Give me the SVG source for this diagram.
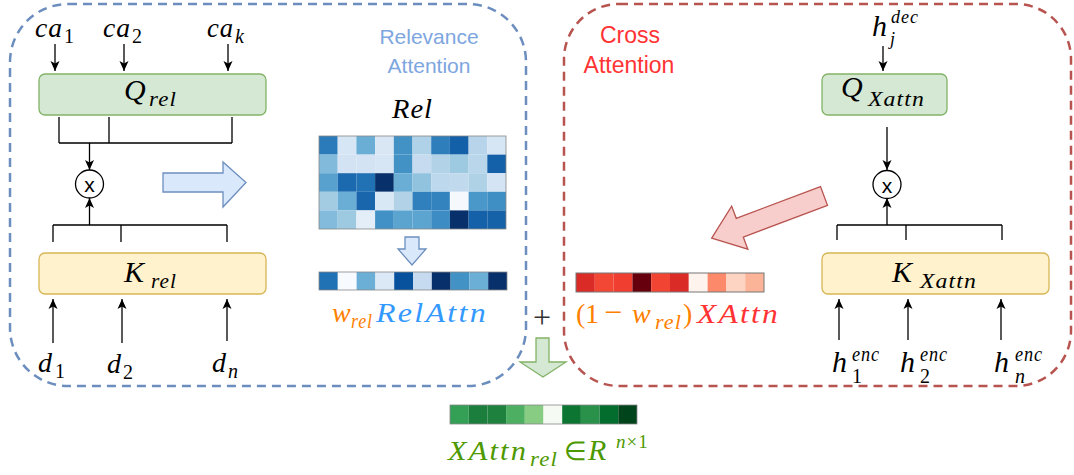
<svg xmlns="http://www.w3.org/2000/svg" width="1074" height="475" viewBox="0 0 1074 475">
<defs>
<marker id="ah" markerUnits="userSpaceOnUse" markerWidth="10" markerHeight="10" refX="10" refY="5" orient="auto" viewBox="0 0 10 10">
<path d="M0,0.5 L10,5 L0,9.5 L2.5,5 Z" fill="#000"/>
</marker>
<style>
.m{font-family:"Liberation Serif","Times New Roman",serif;font-style:italic;letter-spacing:1px}
.w{letter-spacing:2px}
.u{font-family:"Liberation Serif","Times New Roman",serif;font-style:normal}
.s{font-family:"Liberation Sans",Arial,sans-serif}
.ln{stroke:#000;stroke-width:1.3;fill:none}
.ar{stroke:#000;stroke-width:1.3;fill:none;marker-end:url(#ah)}
.q{fill:#d5e8d4;stroke:#82b366;stroke-width:1.3}
.k{fill:#fff2cc;stroke:#d6b656;stroke-width:1.3}
.bar{fill:none;stroke:#888;stroke-width:0.8}
</style>
</defs>
<rect width="1074" height="475" fill="#fff"/>

<g id="relevance-frame">
<rect x="10" y="4" width="516" height="382" rx="58" ry="58" fill="none" stroke="#6c8ebf" stroke-width="2.5" stroke-dasharray="9 6"/>
<text class="s" x="429" y="44" font-size="21" fill="#7ea6e0" text-anchor="middle">Relevance</text>
<text class="s" x="429" y="73" font-size="21" fill="#7ea6e0" text-anchor="middle">Attention</text>
</g>

<g id="cross-frame">
<rect x="564" y="4" width="507" height="382" rx="55" ry="55" fill="none" stroke="#b85450" stroke-width="2.5" stroke-dasharray="9 6"/>
<text class="s" x="630" y="43" font-size="23" fill="#ff3333" text-anchor="middle">Cross</text>
<text class="s" x="629" y="73" font-size="23" fill="#ff3333" text-anchor="middle">Attention</text>
</g>

<g id="connectors">
<line class="ar" x1="55" y1="44" x2="55" y2="71"/>
<line class="ar" x1="124" y1="44" x2="124" y2="71"/>
<line class="ar" x1="228" y1="44" x2="228" y2="71"/>
<path class="ln" d="M59,117 V143 M109,117 V143 M232,117 V143 M59,143 H232"/>
<line class="ar" x1="89.5" y1="143" x2="89.5" y2="170"/>
<line class="ar" x1="89.5" y1="225" x2="89.5" y2="198"/>
<path class="ln" d="M53,225 H227 M53,225 V242 M121,225 V242 M227,225 V242"/>
<line class="ar" x1="53" y1="343" x2="53" y2="299"/>
<line class="ar" x1="122" y1="343" x2="122" y2="299"/>
<line class="ar" x1="227" y1="341" x2="227" y2="299"/>

<line class="ar" x1="883" y1="46" x2="883" y2="71"/>
<line class="ar" x1="887" y1="127" x2="887" y2="170"/>
<line class="ar" x1="887" y1="225" x2="887" y2="198"/>
<path class="ln" d="M837,225 H1002 M837,225 V240 M906,225 V240 M1002,225 V240"/>
<line class="ar" x1="839" y1="340" x2="839" y2="299"/>
<line class="ar" x1="908" y1="340" x2="908" y2="299"/>
<line class="ar" x1="1001" y1="340" x2="1001" y2="299"/>

<polygon points="163,173 223,173 223,162 246,182.5 223,207 223,192 163,192" fill="#dae8fc" stroke="#6c8ebf" stroke-width="1.3"/>
<polygon points="405,237 419,237 419,249 426,249 412,265 398,249 405,249" fill="#dae8fc" stroke="#6c8ebf" stroke-width="1.3"/>
<polygon transform="translate(824,196) rotate(159.4)" points="0,-10 90,-10 90,-23 120,0 90,23 90,10 0,10" fill="#f8cecc" stroke="#b85450" stroke-width="1.3"/>
<polygon points="536,338 549,338 549,362 566,362 543,377 520,362 536,362" fill="#d5e8d4" stroke="#82b366" stroke-width="1.3"/>
</g>

<g id="ca-inputs">
<text class="m" x="35" y="37" font-size="28" textLength="28" lengthAdjust="spacingAndGlyphs">ca</text>
<text class="u" x="64" y="43" font-size="20">1</text>
<text class="m" x="103" y="37" font-size="28" textLength="28" lengthAdjust="spacingAndGlyphs">ca</text>
<text class="u" x="132" y="43" font-size="20">2</text>
<text class="m" x="207" y="37" font-size="28" textLength="27" lengthAdjust="spacingAndGlyphs">ca</text>
<text class="m" x="235" y="43" font-size="20">k</text>
</g>

<g id="q-rel">
<rect class="q" x="39" y="74" width="227" height="41" rx="6"/>
<text class="m" x="124" y="100" font-size="30">Q</text>
<text class="m" x="149" y="106" font-size="20" textLength="28" lengthAdjust="spacingAndGlyphs">rel</text>
</g>

<g id="mult-rel">
<circle cx="89.5" cy="184" r="14" fill="#fff" stroke="#000" stroke-width="1.3"/>
<text class="s" x="89.5" y="192" font-size="21" text-anchor="middle">x</text>
</g>

<g id="k-rel">
<rect class="k" x="39" y="253" width="227" height="41" rx="6"/>
<text class="m" x="124" y="282" font-size="30">K</text>
<text class="m" x="151" y="288" font-size="20" textLength="26" lengthAdjust="spacingAndGlyphs">rel</text>
</g>

<g id="d-inputs">
<text class="m" x="38" y="372" font-size="28">d</text>
<text class="u" x="55" y="378" font-size="20">1</text>
<text class="m" x="107" y="373" font-size="28">d</text>
<text class="u" x="123" y="379" font-size="20">2</text>
<text class="m" x="212" y="372" font-size="28">d</text>
<text class="m" x="228" y="378" font-size="20">n</text>
</g>

<g id="rel-heatmap">
<text class="m" x="392" y="118" font-size="28" textLength="41" lengthAdjust="spacingAndGlyphs">Rel</text>
<g>
<rect x="319" y="136" width="18.7" height="18.6" fill="#2b7bba"/><rect x="337.7" y="136" width="18.7" height="18.6" fill="#d6e6f4"/><rect x="356.4" y="136" width="18.7" height="18.6" fill="#6aaed6"/><rect x="375.1" y="136" width="18.7" height="18.6" fill="#d9e7f5"/><rect x="393.8" y="136" width="18.7" height="18.6" fill="#4292c6"/><rect x="412.5" y="136" width="18.7" height="18.6" fill="#b0d2e8"/><rect x="431.2" y="136" width="18.7" height="18.6" fill="#2f7ebc"/><rect x="449.9" y="136" width="18.7" height="18.6" fill="#1460a8"/><rect x="468.6" y="136" width="18.7" height="18.6" fill="#b7d4ea"/><rect x="487.3" y="136" width="18.7" height="18.6" fill="#d6e6f4"/>
<rect x="319" y="154.6" width="18.7" height="18.6" fill="#82badb"/><rect x="337.7" y="154.6" width="18.7" height="18.6" fill="#d3e3f3"/><rect x="356.4" y="154.6" width="18.7" height="18.6" fill="#d3e3f3"/><rect x="375.1" y="154.6" width="18.7" height="18.6" fill="#d6e6f4"/><rect x="393.8" y="154.6" width="18.7" height="18.6" fill="#4292c6"/><rect x="412.5" y="154.6" width="18.7" height="18.6" fill="#c6dbef"/><rect x="431.2" y="154.6" width="18.7" height="18.6" fill="#b1d2e7"/><rect x="449.9" y="154.6" width="18.7" height="18.6" fill="#9ecae1"/><rect x="468.6" y="154.6" width="18.7" height="18.6" fill="#b9d6ea"/><rect x="487.3" y="154.6" width="18.7" height="18.6" fill="#1561a9"/>
<rect x="319" y="173.2" width="18.7" height="18.6" fill="#58a1cf"/><rect x="337.7" y="173.2" width="18.7" height="18.6" fill="#1b69af"/><rect x="356.4" y="173.2" width="18.7" height="18.6" fill="#2171b5"/><rect x="375.1" y="173.2" width="18.7" height="18.6" fill="#08306b"/><rect x="393.8" y="173.2" width="18.7" height="18.6" fill="#6aaed6"/><rect x="412.5" y="173.2" width="18.7" height="18.6" fill="#91c3de"/><rect x="431.2" y="173.2" width="18.7" height="18.6" fill="#bdd7ec"/><rect x="449.9" y="173.2" width="18.7" height="18.6" fill="#c1d9ed"/><rect x="468.6" y="173.2" width="18.7" height="18.6" fill="#b0d2e7"/><rect x="487.3" y="173.2" width="18.7" height="18.6" fill="#d4e4f4"/>
<rect x="319" y="191.8" width="18.7" height="18.6" fill="#a3cce3"/><rect x="337.7" y="191.8" width="18.7" height="18.6" fill="#6aaed6"/><rect x="356.4" y="191.8" width="18.7" height="18.6" fill="#1966ad"/><rect x="375.1" y="191.8" width="18.7" height="18.6" fill="#d9e8f5"/><rect x="393.8" y="191.8" width="18.7" height="18.6" fill="#b1d2e7"/><rect x="412.5" y="191.8" width="18.7" height="18.6" fill="#3080bd"/><rect x="431.2" y="191.8" width="18.7" height="18.6" fill="#3383be"/><rect x="449.9" y="191.8" width="18.7" height="18.6" fill="#f5f9fe"/><rect x="468.6" y="191.8" width="18.7" height="18.6" fill="#4a98c9"/><rect x="487.3" y="191.8" width="18.7" height="18.6" fill="#3f8fc5"/>
<rect x="319" y="210.4" width="18.7" height="18.6" fill="#82bbdb"/><rect x="337.7" y="210.4" width="18.7" height="18.6" fill="#9dc9e1"/><rect x="356.4" y="210.4" width="18.7" height="18.6" fill="#e3eef9"/><rect x="375.1" y="210.4" width="18.7" height="18.6" fill="#4191c6"/><rect x="393.8" y="210.4" width="18.7" height="18.6" fill="#5ca4d0"/><rect x="412.5" y="210.4" width="18.7" height="18.6" fill="#5da5d1"/><rect x="431.2" y="210.4" width="18.7" height="18.6" fill="#3d8dc4"/><rect x="449.9" y="210.4" width="18.7" height="18.6" fill="#08306b"/><rect x="468.6" y="210.4" width="18.7" height="18.6" fill="#1561a9"/><rect x="487.3" y="210.4" width="18.7" height="18.6" fill="#1562a9"/>
</g>
<rect class="bar" x="319" y="136" width="187" height="93"/>
</g>

<g id="rel-attn-bar">
<rect x="319" y="272" width="18.8" height="18" fill="#2171b5"/><rect x="337.8" y="272" width="18.8" height="18" fill="#f7fbff"/><rect x="356.6" y="272" width="18.8" height="18" fill="#6baed6"/><rect x="375.4" y="272" width="18.8" height="18" fill="#dbe9f6"/><rect x="394.2" y="272" width="18.8" height="18" fill="#08519c"/><rect x="413" y="272" width="18.8" height="18" fill="#c6dbef"/><rect x="431.8" y="272" width="18.8" height="18" fill="#08306b"/><rect x="450.6" y="272" width="18.8" height="18" fill="#4292c6"/><rect x="469.4" y="272" width="18.8" height="18" fill="#6baed6"/><rect x="488.2" y="272" width="18.8" height="18" fill="#08306b"/>
<rect class="bar" x="319" y="272" width="188" height="18"/>
<text class="m" x="332" y="322" font-size="28" fill="#ff8000">w</text>
<text class="m" x="351" y="328" font-size="20" fill="#ff8000" textLength="22" lengthAdjust="spacingAndGlyphs">rel</text>
<text class="m w" x="376" y="322" font-size="28" fill="#3399ff" textLength="112" lengthAdjust="spacingAndGlyphs">RelAttn</text>
</g>

<g id="plus">
<text class="u" x="542" y="328" font-size="32" fill="#333" text-anchor="middle">+</text>
</g>

<g id="xattn-bar">
<rect x="576" y="273" width="18.8" height="19" fill="#da2b26"/><rect x="594.8" y="273" width="18.8" height="19" fill="#f24734"/><rect x="613.6" y="273" width="18.8" height="19" fill="#f03f31"/><rect x="632.4" y="273" width="18.8" height="19" fill="#67000d"/><rect x="651.2" y="273" width="18.8" height="19" fill="#f14432"/><rect x="670" y="273" width="18.8" height="19" fill="#da2b26"/><rect x="688.8" y="273" width="18.8" height="19" fill="#fff3ee"/><rect x="707.6" y="273" width="18.8" height="19" fill="#fc8a6a"/><rect x="726.4" y="273" width="18.8" height="19" fill="#fdd4c2"/><rect x="745.2" y="273" width="18.8" height="19" fill="#fcb499"/>
<rect x="576" y="273" width="188" height="19" fill="none" stroke="#777" stroke-width="1"/>
<text class="u" x="576" y="323" font-size="28" fill="#ff8000">(</text>
<text class="u" x="585" y="323" font-size="28" fill="#ff8000">1</text>
<text class="u" x="604" y="323" font-size="32" fill="#ff8000">−</text>
<text class="m" x="632" y="323" font-size="28" fill="#ff8000">w</text>
<text class="m" x="655" y="329" font-size="20" fill="#ff8000" textLength="27" lengthAdjust="spacingAndGlyphs">rel</text>
<text class="u" x="683" y="323" font-size="28" fill="#ff8000">)</text>
<text class="m w" x="697" y="323" font-size="28" fill="#ff3333" textLength="83" lengthAdjust="spacingAndGlyphs">XAttn</text>
</g>

<g id="h-dec">
<text class="m" x="872" y="36" font-size="30">h</text>
<text class="m" x="891" y="23" font-size="18" textLength="28" lengthAdjust="spacingAndGlyphs">dec</text>
<text class="m" x="890" y="45" font-size="18">j</text>
</g>

<g id="q-xattn">
<rect class="q" x="822" y="74" width="125" height="41" rx="6"/>
<text class="m" x="841" y="97" font-size="30">Q</text>
<text class="m" x="868" y="106" font-size="21" textLength="57" lengthAdjust="spacingAndGlyphs">Xattn</text>
</g>

<g id="mult-xattn">
<circle cx="887" cy="184.5" r="14" fill="#fff" stroke="#000" stroke-width="1.3"/>
<text class="s" x="887" y="192.5" font-size="21" text-anchor="middle">x</text>
</g>

<g id="k-xattn">
<rect class="k" x="822" y="253" width="227" height="41" rx="6"/>
<text class="m" x="892" y="282" font-size="30">K</text>
<text class="m" x="920" y="288" font-size="21" textLength="57" lengthAdjust="spacingAndGlyphs">Xattn</text>
</g>

<g id="h-enc">
<text class="m" x="832" y="372" font-size="30">h</text>
<text class="m" x="852" y="361" font-size="20" textLength="28" lengthAdjust="spacingAndGlyphs">enc</text>
<text class="u" x="852" y="383" font-size="20">1</text>
<text class="m" x="900" y="372" font-size="30">h</text>
<text class="m" x="920" y="361" font-size="20" textLength="28" lengthAdjust="spacingAndGlyphs">enc</text>
<text class="u" x="920" y="383" font-size="20">2</text>
<text class="m" x="994" y="372" font-size="30">h</text>
<text class="m" x="1015" y="361" font-size="20" textLength="28" lengthAdjust="spacingAndGlyphs">enc</text>
<text class="m" x="1015" y="383" font-size="20">n</text>
</g>

<g id="result">
<rect x="450" y="405" width="18.7" height="19" fill="#33a055"/><rect x="468.7" y="405" width="18.7" height="19" fill="#1c7e3c"/><rect x="487.4" y="405" width="18.7" height="19" fill="#1f813e"/><rect x="506.1" y="405" width="18.7" height="19" fill="#4caf61"/><rect x="524.8" y="405" width="18.7" height="19" fill="#88cb83"/><rect x="543.5" y="405" width="18.7" height="19" fill="#f5fbf3"/><rect x="562.2" y="405" width="18.7" height="19" fill="#0d7532"/><rect x="580.9" y="405" width="18.7" height="19" fill="#2a914a"/><rect x="599.6" y="405" width="18.7" height="19" fill="#026d2c"/><rect x="618.3" y="405" width="18.7" height="19" fill="#00441b"/>
<rect class="bar" x="450" y="405" width="187" height="19"/>
<text class="m w" x="448" y="460" font-size="28" fill="#4d9900" textLength="80" lengthAdjust="spacingAndGlyphs">XAttn</text>
<text class="m" x="530" y="466" font-size="20" fill="#4d9900" textLength="28" lengthAdjust="spacingAndGlyphs">rel</text>
<text class="u" x="564" y="460" font-size="26" fill="#4d9900">∈</text>
<text class="m" x="588" y="460" font-size="30" fill="#4d9900">R</text>
<text class="m" x="616" y="448" font-size="19" fill="#4d9900">n<tspan class="u">×1</tspan></text>
</g>
</svg>
